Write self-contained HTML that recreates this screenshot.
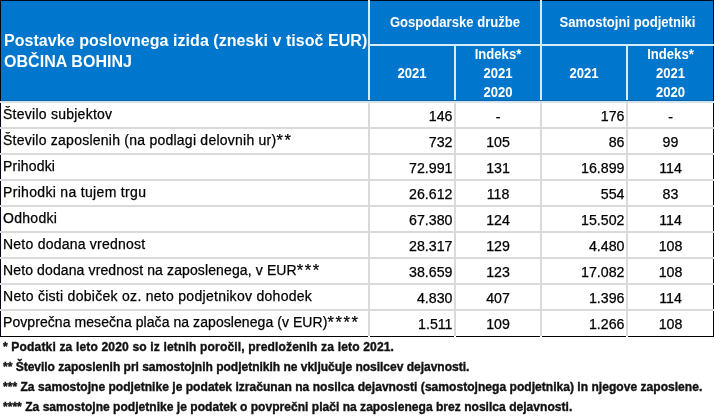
<!DOCTYPE html>
<html><head><meta charset="utf-8"><title>Občina Bohinj</title>
<style>
html,body{margin:0;padding:0;background:#fff;}
body{width:715px;height:418px;overflow:hidden;position:relative;}
.a{position:absolute;white-space:nowrap;}
.ttl{font:bold 16px "Liberation Sans",Arial,sans-serif;color:#fff;letter-spacing:0.05px;}
.hd{font:bold 14px "Liberation Sans",Arial,sans-serif;color:#fff;transform:scaleX(0.935);}
.bd{font:14px "Liberation Sans",Arial,sans-serif;color:#000;letter-spacing:0.27px;-webkit-text-stroke:0.25px #000;}
.st{font-size:16.5px;letter-spacing:1.6px;position:relative;top:1.6px;line-height:0;}
.nm{font:14.2px "Liberation Sans",Arial,sans-serif;color:#000;-webkit-text-stroke:0.25px #000;}
.ft{font:bold 13.4px "Liberation Sans",Arial,sans-serif;color:#111;transform:scaleX(0.9);transform-origin:0 0;-webkit-text-stroke:0.4px #111;}
</style></head><body>
<div class="a" style="left:0px;top:0px;width:714px;height:101px;background:#0077cc"></div>
<div class="a" style="left:368px;top:0px;width:2px;height:101px;background:#d4ecfc"></div>
<div class="a" style="left:540px;top:0px;width:2px;height:101px;background:#d4ecfc"></div>
<div class="a" style="left:370px;top:44px;width:344px;height:2px;background:#d4ecfc"></div>
<div class="a" style="left:454px;top:46px;width:2px;height:55px;background:#d4ecfc"></div>
<div class="a" style="left:626px;top:46px;width:2px;height:55px;background:#d4ecfc"></div>
<div class="a" style="left:1px;top:100px;width:712px;height:1px;background:#0d63a8"></div>
<div class="a" style="left:0px;top:101px;width:714px;height:1px;background:#c8e4fa"></div>
<div class="a" style="left:0px;top:102px;width:714px;height:1px;background:#dce2e8"></div>
<div class="a" style="left:0px;top:127px;width:714px;height:2px;background:#dadada"></div>
<div class="a" style="left:0px;top:153px;width:714px;height:2px;background:#dadada"></div>
<div class="a" style="left:0px;top:179px;width:714px;height:2px;background:#dadada"></div>
<div class="a" style="left:0px;top:205px;width:714px;height:2px;background:#dadada"></div>
<div class="a" style="left:0px;top:231px;width:714px;height:2px;background:#dadada"></div>
<div class="a" style="left:0px;top:257px;width:714px;height:2px;background:#dadada"></div>
<div class="a" style="left:0px;top:283px;width:714px;height:2px;background:#dadada"></div>
<div class="a" style="left:0px;top:309px;width:714px;height:2px;background:#dadada"></div>
<div class="a" style="left:368px;top:103px;width:2px;height:233px;background:#dadada"></div>
<div class="a" style="left:454px;top:103px;width:2px;height:233px;background:#dadada"></div>
<div class="a" style="left:540px;top:103px;width:2px;height:233px;background:#dadada"></div>
<div class="a" style="left:626px;top:103px;width:2px;height:233px;background:#dadada"></div>
<div class="a" style="left:0px;top:0px;width:368px;height:1px;background:#00081c"></div>
<div class="a" style="left:370px;top:0px;width:170px;height:1px;background:#00081c"></div>
<div class="a" style="left:542px;top:0px;width:172px;height:1px;background:#00081c"></div>
<div class="a" style="left:0px;top:0px;width:1px;height:101px;background:#00050f"></div>
<div class="a" style="left:0px;top:103px;width:1px;height:24px;background:#00050f"></div>
<div class="a" style="left:0px;top:129px;width:1px;height:24px;background:#00050f"></div>
<div class="a" style="left:0px;top:155px;width:1px;height:24px;background:#00050f"></div>
<div class="a" style="left:0px;top:181px;width:1px;height:24px;background:#00050f"></div>
<div class="a" style="left:0px;top:207px;width:1px;height:24px;background:#00050f"></div>
<div class="a" style="left:0px;top:233px;width:1px;height:24px;background:#00050f"></div>
<div class="a" style="left:0px;top:259px;width:1px;height:24px;background:#00050f"></div>
<div class="a" style="left:0px;top:285px;width:1px;height:24px;background:#00050f"></div>
<div class="a" style="left:0px;top:311px;width:1px;height:26px;background:#00050f"></div>
<div class="a" style="left:713px;top:0px;width:1px;height:44px;background:#00050f"></div>
<div class="a" style="left:713px;top:46px;width:1px;height:55px;background:#00050f"></div>
<div class="a" style="left:713px;top:103px;width:1px;height:24px;background:#00050f"></div>
<div class="a" style="left:713px;top:129px;width:1px;height:24px;background:#00050f"></div>
<div class="a" style="left:713px;top:155px;width:1px;height:24px;background:#00050f"></div>
<div class="a" style="left:713px;top:181px;width:1px;height:24px;background:#00050f"></div>
<div class="a" style="left:713px;top:207px;width:1px;height:24px;background:#00050f"></div>
<div class="a" style="left:713px;top:233px;width:1px;height:24px;background:#00050f"></div>
<div class="a" style="left:713px;top:259px;width:1px;height:24px;background:#00050f"></div>
<div class="a" style="left:713px;top:285px;width:1px;height:24px;background:#00050f"></div>
<div class="a" style="left:713px;top:311px;width:1px;height:26px;background:#00050f"></div>
<div class="a" style="left:0px;top:336px;width:368px;height:1px;background:#000"></div>
<div class="a" style="left:370px;top:336px;width:84px;height:1px;background:#000"></div>
<div class="a" style="left:456px;top:336px;width:84px;height:1px;background:#000"></div>
<div class="a" style="left:542px;top:336px;width:84px;height:1px;background:#000"></div>
<div class="a" style="left:628px;top:336px;width:86px;height:1px;background:#000"></div>
<div class="a ttl" style="left:4px;top:29.5px;width:362px;line-height:21px">Postavke poslovnega izida (zneski v tisoč EUR)<br>OBČINA BOHINJ</div>
<div class="a hd" style="left:370px;width:170px;top:12.65px;line-height:18px;text-align:center">Gospodarske družbe</div>
<div class="a hd" style="left:542px;width:171px;top:12.65px;line-height:18px;text-align:center">Samostojni podjetniki</div>
<div class="a hd" style="left:370px;width:84px;top:63.75px;line-height:18px;text-align:center">2021</div>
<div class="a hd" style="left:542px;width:84px;top:63.75px;line-height:18px;text-align:center">2021</div>
<div class="a hd" style="left:456px;width:84px;top:44.85px;line-height:18px;text-align:center">Indeks*</div>
<div class="a hd" style="left:456px;width:84px;top:63.75px;line-height:18px;text-align:center">2021</div>
<div class="a hd" style="left:456px;width:84px;top:82.65px;line-height:18px;text-align:center">2020</div>
<div class="a hd" style="left:628px;width:85px;top:44.85px;line-height:18px;text-align:center">Indeks*</div>
<div class="a hd" style="left:628px;width:85px;top:63.75px;line-height:18px;text-align:center">2021</div>
<div class="a hd" style="left:628px;width:85px;top:82.65px;line-height:18px;text-align:center">2020</div>
<div class="a bd" style="left:3px;width:363px;top:104.75px;line-height:18px;text-align:left;letter-spacing:0.251px">Število subjektov</div>
<div class="a nm" style="left:370px;width:82.5px;top:106.98px;line-height:18px;text-align:right">146</div>
<div class="a nm" style="left:456px;width:84px;top:107.98px;line-height:18px;text-align:center">-</div>
<div class="a nm" style="left:542px;width:82.5px;top:106.98px;line-height:18px;text-align:right">176</div>
<div class="a nm" style="left:628px;width:85px;top:107.98px;line-height:18px;text-align:center">-</div>
<div class="a bd" style="left:3px;width:363px;top:130.75px;line-height:18px;text-align:left;letter-spacing:0.241px">Število zaposlenih (na podlagi delovnih ur)<span class="st">**</span></div>
<div class="a nm" style="left:370px;width:82.5px;top:132.98px;line-height:18px;text-align:right">732</div>
<div class="a nm" style="left:456px;width:84px;top:132.98px;line-height:18px;text-align:center">105</div>
<div class="a nm" style="left:542px;width:82.5px;top:132.98px;line-height:18px;text-align:right">86</div>
<div class="a nm" style="left:628px;width:85px;top:132.98px;line-height:18px;text-align:center">99</div>
<div class="a bd" style="left:3px;width:363px;top:156.75px;line-height:18px;text-align:left;letter-spacing:0.2px">Prihodki</div>
<div class="a nm" style="left:370px;width:82.5px;top:158.98px;line-height:18px;text-align:right">72.991</div>
<div class="a nm" style="left:456px;width:84px;top:158.98px;line-height:18px;text-align:center">131</div>
<div class="a nm" style="left:542px;width:82.5px;top:158.98px;line-height:18px;text-align:right">16.899</div>
<div class="a nm" style="left:628px;width:85px;top:158.98px;line-height:18px;text-align:center">114</div>
<div class="a bd" style="left:3px;width:363px;top:182.75px;line-height:18px;text-align:left;letter-spacing:0.322px">Prihodki na tujem trgu</div>
<div class="a nm" style="left:370px;width:82.5px;top:184.98px;line-height:18px;text-align:right">26.612</div>
<div class="a nm" style="left:456px;width:84px;top:184.98px;line-height:18px;text-align:center">118</div>
<div class="a nm" style="left:542px;width:82.5px;top:184.98px;line-height:18px;text-align:right">554</div>
<div class="a nm" style="left:628px;width:85px;top:184.98px;line-height:18px;text-align:center">83</div>
<div class="a bd" style="left:3px;width:363px;top:208.75px;line-height:18px;text-align:left;letter-spacing:0.287px">Odhodki</div>
<div class="a nm" style="left:370px;width:82.5px;top:210.98px;line-height:18px;text-align:right">67.380</div>
<div class="a nm" style="left:456px;width:84px;top:210.98px;line-height:18px;text-align:center">124</div>
<div class="a nm" style="left:542px;width:82.5px;top:210.98px;line-height:18px;text-align:right">15.502</div>
<div class="a nm" style="left:628px;width:85px;top:210.98px;line-height:18px;text-align:center">114</div>
<div class="a bd" style="left:3px;width:363px;top:234.75px;line-height:18px;text-align:left;letter-spacing:0.233px">Neto dodana vrednost</div>
<div class="a nm" style="left:370px;width:82.5px;top:236.98px;line-height:18px;text-align:right">28.317</div>
<div class="a nm" style="left:456px;width:84px;top:236.98px;line-height:18px;text-align:center">129</div>
<div class="a nm" style="left:542px;width:82.5px;top:236.98px;line-height:18px;text-align:right">4.480</div>
<div class="a nm" style="left:628px;width:85px;top:236.98px;line-height:18px;text-align:center">108</div>
<div class="a bd" style="left:3px;width:363px;top:260.75px;line-height:18px;text-align:left;letter-spacing:0.121px">Neto dodana vrednost na zaposlenega, v EUR<span class="st">***</span></div>
<div class="a nm" style="left:370px;width:82.5px;top:262.98px;line-height:18px;text-align:right">38.659</div>
<div class="a nm" style="left:456px;width:84px;top:262.98px;line-height:18px;text-align:center">123</div>
<div class="a nm" style="left:542px;width:82.5px;top:262.98px;line-height:18px;text-align:right">17.082</div>
<div class="a nm" style="left:628px;width:85px;top:262.98px;line-height:18px;text-align:center">108</div>
<div class="a bd" style="left:3px;width:363px;top:286.75px;line-height:18px;text-align:left;letter-spacing:0.285px">Neto čisti dobiček oz. neto podjetnikov dohodek</div>
<div class="a nm" style="left:370px;width:82.5px;top:288.98px;line-height:18px;text-align:right">4.830</div>
<div class="a nm" style="left:456px;width:84px;top:288.98px;line-height:18px;text-align:center">407</div>
<div class="a nm" style="left:542px;width:82.5px;top:288.98px;line-height:18px;text-align:right">1.396</div>
<div class="a nm" style="left:628px;width:85px;top:288.98px;line-height:18px;text-align:center">114</div>
<div class="a bd" style="left:3px;width:363px;top:312.75px;line-height:18px;text-align:left;letter-spacing:0.066px">Povprečna mesečna plača na zaposlenega (v EUR)<span class="st">****</span></div>
<div class="a nm" style="left:370px;width:82.5px;top:314.98px;line-height:18px;text-align:right">1.511</div>
<div class="a nm" style="left:456px;width:84px;top:314.98px;line-height:18px;text-align:center">109</div>
<div class="a nm" style="left:542px;width:82.5px;top:314.98px;line-height:18px;text-align:right">1.266</div>
<div class="a nm" style="left:628px;width:85px;top:314.98px;line-height:18px;text-align:center">108</div>
<div class="a ft" style="left:3px;width:711px;top:338.06px;line-height:17px;text-align:left;letter-spacing:0.17px">* Podatki za leto 2020 so iz letnih poročil, predloženih za leto 2021.</div>
<div class="a ft" style="left:3px;width:711px;top:357.76px;line-height:17px;text-align:left;letter-spacing:-0.033px">** Število zaposlenih pri samostojnih podjetnikih ne vključuje nosilcev dejavnosti.</div>
<div class="a ft" style="left:3px;width:711px;top:377.66px;line-height:17px;text-align:left;letter-spacing:0.02px">*** Za samostojne podjetnike je podatek izračunan na nosilca dejavnosti (samostojnega podjetnika) in njegove zaposlene.</div>
<div class="a ft" style="left:3px;width:711px;top:397.66px;line-height:17px;text-align:left;letter-spacing:0.015px">**** Za samostojne podjetnike je podatek o povprečni plači na zaposlenega brez nosilca dejavnosti.</div>
</body></html>
